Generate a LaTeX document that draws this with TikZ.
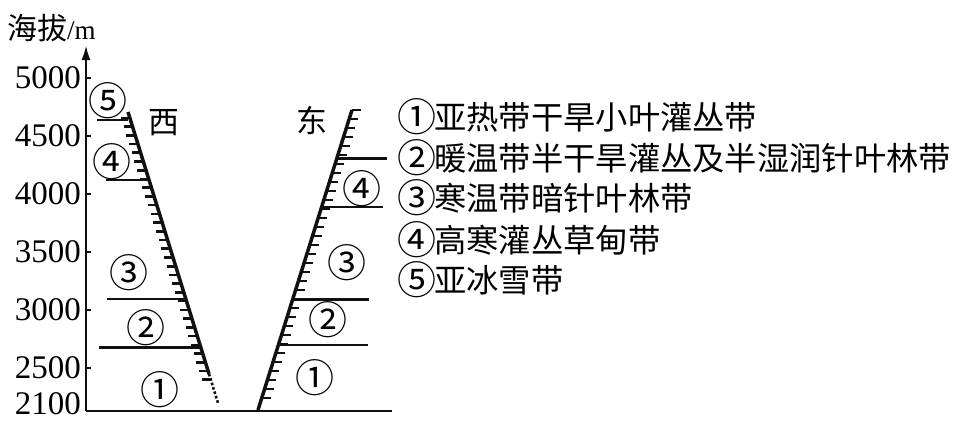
\documentclass[tikz,border=0pt]{standalone}
\usepackage{fontspec}
\setmainfont{Liberation Serif}
\newfontfamily\cjk{Noto Sans CJK SC}
\usetikzlibrary{arrows.meta,positioning,calc}
\definecolor{Ink}{HTML}{111111}
\newcommand\cnum[1]{\makebox[37pt][l]{\raisebox{-2pt}{\fontsize{39}{39}\selectfont#1}}}

\begin{document}
\begin{tikzpicture}[x=1pt,y=-1pt, >=Latex, axis/.style={draw=Ink,line width=2.4pt}, slope/.style={draw=Ink,line width=3.5pt}, hatch/.style={draw=Ink,line width=2.6pt}, band/.style={draw=Ink,line width=2.2pt}, num/.style={font=\fontsize{33}{33}\selectfont,anchor=east,inner sep=0pt}, zone/.style={font=\cjk\fontsize{39}{39}\selectfont,inner sep=0pt}, side/.style={font=\cjk\fontsize{31}{31}\selectfont,inner sep=0pt}, legend/.style={font=\cjk\fontsize{32.3}{32.3}\selectfont,anchor=west,inner sep=0pt}]
\useasboundingbox (0,0) rectangle (960,421);
\node[anchor=west,inner sep=0pt] (ytitle) at (7,28) {{\cjk\fontsize{30}{30}\selectfont 海拔}{\fontsize{27}{27}\selectfont/m}};
\coordinate (o) at (86,411);
\coordinate (ytop) at (86,45);
\coordinate (xend) at (392,411);
\draw[axis,-{Latex[length=15pt,width=9pt]}] (o) -- (ytop);
\draw[draw=Ink,line width=2pt] (o) -- (xend);
\foreach \h/\y in {5000/78,4500/136,4000/194,3500/252,3000/310,2500/368}{
  \draw[draw=Ink,line width=2pt] (86,\y) -- ++(5,0);
  \node[num] (h\h) at (81,\y) {\h};
}
\node[num] (h2100) at (81,404) {2100};
% west slope
\coordinate (wtop) at (128,112);
\coordinate (wbot) at (218,403);
\coordinate (wend) at ($(wtop)!0.9!(wbot)$);
\draw[slope] (wtop) -- (wend);
\draw[draw=Ink,line width=2.6pt,dotted] (wend) -- (wbot);
\foreach \t in {0.02,0.05,...,0.93}
  \draw[hatch] ($(wtop)!\t!(wbot)$) -- ++(-9,0);
\draw[band,line width=2pt] (97,120) -- (128,120);
\draw[band,line width=1.6pt] (106,180) -- (148,180);
\draw[band] (107,299) -- (187,299);
\draw[band,line width=3pt] (99,347) -- (202,347);
\node[zone] (w5) at (108,101) {⑤};
\node[zone] (w4) at (112,162) {④};
\node[zone] (w3) at (129,273) {③};
\node[zone] (w2) at (146,328) {②};
\node[zone] (w1) at (160,390) {①};
\node[side] (west) at (164,123) {西};
% east slope
\coordinate (etop) at (352,110);
\coordinate (ebot) at (258,410);
\draw[slope] (ebot) -- (etop);
\foreach \t in {0.0,0.03,...,0.97}
  \draw[hatch] ($(etop)!\t!(ebot)$) -- ++(9,0);
\draw[band,line width=3pt] (337,158) -- (387,158);
\draw[band] (322,207) -- (383,207);
\draw[band,line width=3pt] (293,299) -- (369,299);
\draw[band,line width=1.6pt] (278,345) -- (368,345);
\node[zone] (e4) at (362,189) {④};
\node[zone] (e3) at (347,263) {③};
\node[zone] (e2) at (328,320) {②};
\node[zone] (e1) at (315,378) {①};
\node[side] (east) at (312,120) {东};
% key
\node[legend] (k1) at (397,117) {\cnum{①}亚热带干旱小叶灌丛带};
\node[legend] (k2) at (397,158) {\cnum{②}暖温带半干旱灌丛及半湿润针叶林带};
\node[legend] (k3) at (397,198) {\cnum{③}寒温带暗针叶林带};
\node[legend] (k4) at (397,240) {\cnum{④}高寒灌丛草甸带};
\node[legend] (k5) at (397,280) {\cnum{⑤}亚冰雪带};
\end{tikzpicture}
\end{document}
